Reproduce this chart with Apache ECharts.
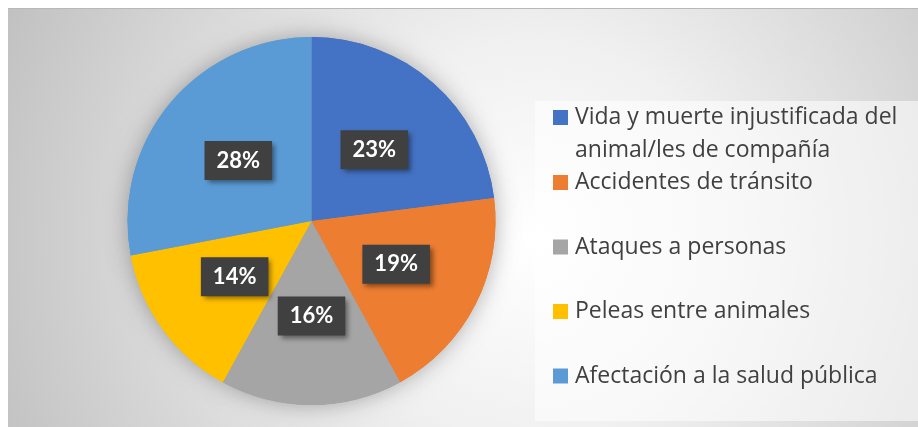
<!DOCTYPE html>
<html>
<head>
<meta charset="utf-8">
<script src="https://cdn.jsdelivr.net/npm/echarts@6/dist/echarts.min.js"></script>
<style>
  html, body { margin: 0; padding: 0; background: #fff; }
  #chart { width: 918px; height: 427px; }
</style>
</head>
<body>
<div id="chart"></div>
<script>
// data
var categories = [
  'Vida y muerte injustificada del animal/les de compañía',
  'Accidentes de tránsito',
  'Ataques a personas',
  'Peleas entre animales',
  'Afectación a la salud pública'
];
var shares = [23, 19, 16, 14, 28];
var colors = ['#4472C4', '#ED7D31', '#A5A5A5', '#FFC000', '#5B9BD5'];

// marker centres of the legend rows
var legendRows = [117.5, 182.5, 247, 311.5, 376];
var legendFont = '"Open Sans", sans-serif';
var labelFont = 'Lato, "Open Sans", sans-serif';

var chart = echarts.init(document.getElementById('chart'));

var pieData = categories.map(function (c, i) {
  return { name: c, value: shares[i], itemStyle: { color: colors[i] } };
});

var legends = categories.map(function (c, i) {
  var ts = {
    color: '#404040',
    fontSize: 23,
    fontFamily: legendFont,
    lineHeight: 33,
    padding: [0, 0, 0, 2]
  };
  var top = legendRows[i] - 16.5;
  var fmt = '{name}';
  if (i === 0) {
    // long entry wraps to two lines; a blank lead line keeps line one on the marker
    ts.width = 340;
    ts.overflow = 'break';
    fmt = function (n) { return '\n' + n; };
    top = legendRows[i] - 49.5;
  }
  return {
    data: [c],
    orient: 'vertical',
    left: 553,
    top: top,
    padding: 0,
    icon: 'rect',
    itemWidth: 15,
    itemHeight: 15,
    selectedMode: false,
    itemStyle: { borderWidth: 0 },
    formatter: fmt,
    textStyle: ts
  };
});

var option = {
  animation: false,
  color: colors,
  graphic: [
    {
      type: 'rect', z: -10, silent: true,
      shape: { x: 8, y: 8, width: 910, height: 419 },
      style: {
        fill: new echarts.graphic.RadialGradient(530, 240, 580, [
          { offset: 0, color: '#ffffff' },
          { offset: 0.35, color: '#f0f0f0' },
          { offset: 1, color: '#c0c0c0' }
        ], true)
      }
    },
    {
      type: 'line', z: -9, silent: true,
      shape: { x1: 8, y1: 8.5, x2: 918, y2: 8.5 },
      style: { stroke: '#b8b8b8', lineWidth: 1 }
    },
    {
      type: 'rect', z: -8, silent: true,
      shape: { x: 535, y: 101, width: 383, height: 320 },
      style: { fill: 'rgba(255,255,255,0.55)' }
    }
  ],
  legend: legends,
  series: [
    {
      // soft shadow underneath the pie
      type: 'pie',
      silent: true,
      z: 1,
      center: [311.5, 221],
      radius: 184,
      startAngle: 90,
      clockwise: true,
      data: pieData,
      label: { show: false },
      labelLine: { show: false },
      itemStyle: {
        borderWidth: 0,
        shadowBlur: 22,
        shadowColor: 'rgba(0,0,0,0.3)'
      },
      emphasis: { disabled: true }
    },
    {
      type: 'pie',
      z: 2,
      center: [311.5, 221],
      radius: 184,
      startAngle: 90,
      clockwise: true,
      data: pieData,
      itemStyle: { borderWidth: 0 },
      label: {
        show: true,
        position: 'inside',
        formatter: '{c}%',
        color: '#ffffff',
        fontFamily: labelFont,
        fontWeight: 'bold',
        fontSize: 22,
        backgroundColor: '#404040',
        padding: [9, 12, 8, 12],
        shadowColor: 'rgba(0,0,0,0.45)',
        shadowBlur: 5,
        shadowOffsetX: 3,
        shadowOffsetY: 3
      },
      labelLine: { show: false },
      emphasis: { disabled: true }
    }
  ]
};

chart.setOption(option);
</script>
</body>
</html>
